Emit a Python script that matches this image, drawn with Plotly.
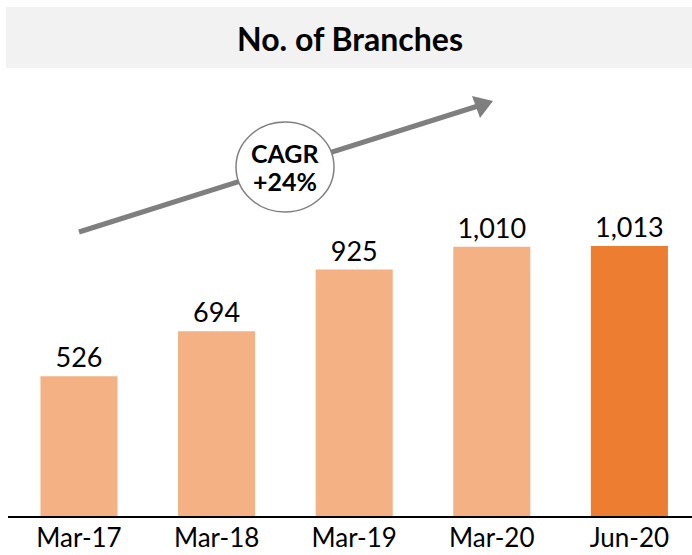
import plotly.graph_objects as go

categories = ["Mar-17", "Mar-18", "Mar-19", "Mar-20", "Jun-20"]
branches = [526, 694, 925, 1010, 1013]
bar_colors = ["#F4B183", "#F4B183", "#F4B183", "#F4B183", "#ED7D31"]
title_text = "No. of Branches"
cagr_lines = ["CAGR", "+24%"]

W, H = 692, 555
T, B = 80, 38
PH = H - T - B  # plot height in px
BASE = H - B

def px(x):
    return x / W

def py(y):
    return (BASE - y) / PH

FONT = "Lato, Open Sans, sans-serif"

fig = go.Figure(go.Bar(
    x=categories, y=branches,
    marker=dict(color=bar_colors, line=dict(width=0)),
    text=[f"{v:,}" for v in branches],
    textposition="outside", cliponaxis=False,
    textfont=dict(size=27, color="#000000", family=FONT),
    width=0.56,
))

shapes = [
    dict(type="rect", xref="paper", yref="paper", x0=px(6), x1=px(692), y0=py(68), y1=py(7),
         fillcolor="#F2F2F2", line=dict(width=0), layer="below"),
    dict(type="line", xref="paper", yref="paper", x0=px(8), x1=px(692), y0=py(517), y1=py(517),
         line=dict(color="#000000", width=2)),
    dict(type="line", xref="paper", yref="paper", x0=px(79), y0=py(232), x1=px(478), y1=py(106),
         line=dict(color="#7F7F7F", width=5)),
    dict(type="path", xref="paper", yref="paper",
         path=f"M {px(493)},{py(101)} L {px(472)},{py(96)} L {px(480)},{py(118)} Z",
         fillcolor="#7F7F7F", line=dict(width=0)),
    dict(type="circle", xref="paper", yref="paper", x0=px(236), x1=px(334), y0=py(212), y1=py(122),
         fillcolor="#FFFFFF", line=dict(color="#808080", width=1.5)),
]

annotations = [
    dict(text=f"<b>{title_text}</b>", xref="paper", yref="paper", x=px(350), y=py(38),
         xanchor="center", yanchor="middle",
         showarrow=False, font=dict(size=32, color="#000000", family=FONT)),
    dict(text=f"<b>{cagr_lines[0]}</b>", xref="paper", yref="paper", x=px(285), y=py(153),
         xanchor="center", yanchor="middle",
         showarrow=False, font=dict(size=25, color="#000000", family=FONT)),
    dict(text=f"<b>{cagr_lines[1]}</b>", xref="paper", yref="paper", x=px(285), y=py(181),
         xanchor="center", yanchor="middle",
         showarrow=False, font=dict(size=25, color="#000000", family=FONT)),
]

step = 137.6
fig.update_layout(
    width=W, height=H,
    margin=dict(l=0, r=0, t=T, b=B, autoexpand=False),
    paper_bgcolor="#FFFFFF", plot_bgcolor="#FFFFFF",
    showlegend=False,
    bargap=0.44,
    xaxis=dict(range=[-79 / step, (W - 79) / step], showgrid=False, showline=False,
               automargin=False, ticks="", ticklen=0, ticklabelstandoff=3,
               tickfont=dict(size=26, color="#000000", family=FONT), fixedrange=True),
    yaxis=dict(range=[0, PH / 0.2675], visible=False, showgrid=False, zeroline=False,
               automargin=False, fixedrange=True),
    shapes=shapes,
    annotations=annotations,
)

fig.write_html("out.html", config={"displayModeBar": False},
               post_script="document.body.style.margin='0';")
